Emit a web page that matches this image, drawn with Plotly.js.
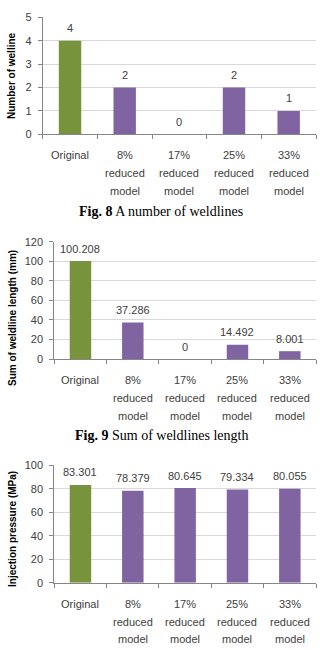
<!DOCTYPE html>
<html>
<head>
<meta charset="utf-8">
<script src="https://cdn.plot.ly/plotly-3.0.1.min.js"></script>
<style>html,body{margin:0;padding:0;background:#fff;}#chart{width:320px;height:650px;}</style>
</head>
<body>
<div id="chart"></div>
<script>
// ---- data ----
const categories = ["Original", "8%<br>reduced<br>model", "17%<br>reduced<br>model", "25%<br>reduced<br>model", "33%<br>reduced<br>model"];
const weldlineCount = [4, 2, 0, 2, 1];
const weldlineLength = [100.208, 37.286, 0, 14.492, 8.001];
const injectionPressure = [83.301, 78.379, 80.645, 79.334, 80.055];
const yTitles = ["Number of welline", "Sum of weldline length (mm)", "Injection pressure (MPa)"];
const captions = ["<b>Fig. 8</b> A number of weldlines", "<b>Fig. 9</b> Sum of weldlines length"];

// ---- style ----
const W = 320, H = 650;
const GREEN = "#77933C", PURPLE = "#8064A2";
const TXT = "#404040";
const SANS = "Liberation Sans, Arial, sans-serif";
const SERIF = "Liberation Serif, Times New Roman, serif";
const py = px => 1 - px / H;
const px2x = px => px / W;

const panels = [
  {vals: weldlineCount, top: 17.3, bottom: 134.3, left: 42.7, range: [0, 5], dtick: 1, titleY: 76, caption: 212},
  {vals: weldlineLength, top: 241.7, bottom: 359, left: 54.3, range: [0, 120], dtick: 20, titleY: 318, caption: 435.7},
  {vals: injectionPressure, top: 465.3, bottom: 582.7, left: 54.3, range: [0, 100], dtick: 20, titleY: 529, caption: null}
];

const data = [];
const layout = {
  width: W, height: H,
  margin: {l: 0, r: 0, t: 0, b: 0},
  paper_bgcolor: "#fff", plot_bgcolor: "#fff",
  showlegend: false,
  bargap: 0.59,
  font: {family: SANS, size: 11, color: TXT},
  annotations: []
};

panels.forEach((p, k) => {
  const n = k === 0 ? "" : String(k + 1);
  const xa = "x" + n, ya = "y" + n;
  data.push({
    type: "bar",
    x: categories,
    y: p.vals,
    xaxis: xa, yaxis: ya,
    marker: {color: categories.map((c, i) => i === 0 ? GREEN : PURPLE)},
    hoverinfo: "skip"
  });
  layout["xaxis" + n] = {
    domain: [px2x(p.left), px2x(316)],
    anchor: ya,
    type: "category",
    showticklabels: false,
    ticks: "outside", tickson: "boundaries", ticklen: 4, tickcolor: "#868686",
    showline: true, linecolor: "#868686", linewidth: 1,
    showgrid: false, fixedrange: true
  };
  layout["yaxis" + n] = {
    domain: [py(p.bottom), py(p.top)],
    anchor: xa,
    range: p.range, dtick: p.dtick,
    ticks: "outside", ticklen: 4, tickcolor: "#868686",
    showline: true, linecolor: "#868686", linewidth: 1,
    gridcolor: "#D9D9D9", gridwidth: 1,
    zeroline: false,
    tickfont: {family: SANS, size: 11, color: TXT},
    ticklabelstandoff: 4,
    fixedrange: true
  };
  // value labels above bars
  categories.forEach((c, i) => {
    layout.annotations.push({
      text: String(p.vals[i]), xref: xa, yref: ya,
      x: c, y: p.vals[i], yshift: 12.5,
      xanchor: "center", yanchor: "middle", showarrow: false,
      font: {family: SANS, size: 11, color: TXT}
    });
  });
  // y axis title
  layout.annotations.push({
    text: "<b>" + yTitles[k] + "</b>",
    xref: "paper", yref: "paper",
    x: px2x(12), y: py(p.titleY),
    xanchor: "center", yanchor: "middle",
    textangle: -90, showarrow: false,
    font: {family: SANS, size: 10, color: "#000"}
  });
  // category labels, line by line
  const offs = [20.8, 38.8, 56.7];
  categories.forEach(c => {
    c.split("<br>").forEach((line, j) => {
      layout.annotations.push({
        text: line, xref: xa, yref: "paper",
        x: c, y: py(p.bottom + offs[j]),
        xanchor: "center", yanchor: "middle", showarrow: false,
        font: {family: SANS, size: 11, color: TXT}
      });
    });
  });
  if (p.caption !== null) {
    layout.annotations.push({
      text: captions[k], xref: "paper", yref: "paper",
      x: px2x(161), y: py(p.caption),
      xanchor: "center", yanchor: "middle", showarrow: false,
      font: {family: SERIF, size: 14, color: "#000"}
    });
  }
});

Plotly.newPlot("chart", data, layout, {staticPlot: true, displayModeBar: false});
</script>
</body>
</html>
